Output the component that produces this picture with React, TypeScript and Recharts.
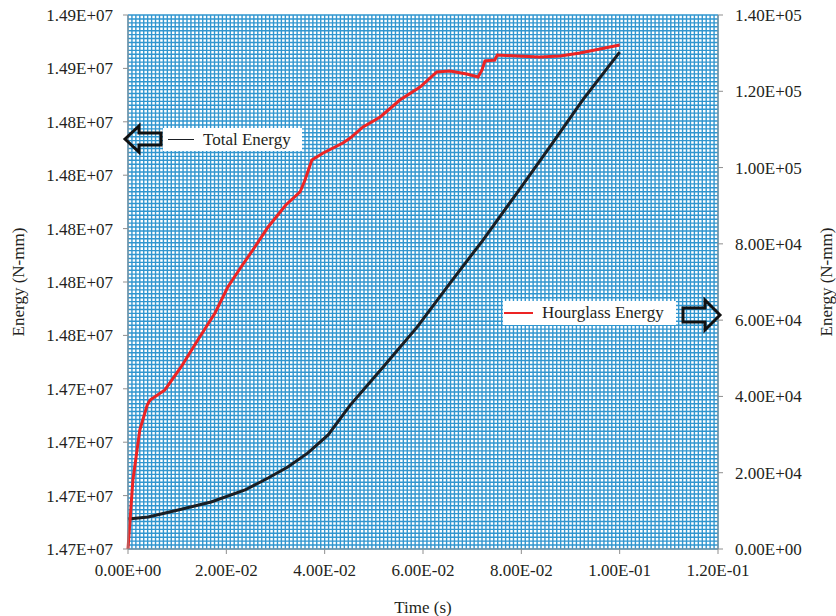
import { LineChart, Line, XAxis, YAxis, CartesianGrid } from 'recharts';

// Total Energy (left axis, N-mm) vs time (s)
const totalTime = [0, 0.0041, 0.0102, 0.0169, 0.0238, 0.0285, 0.0325, 0.0366, 0.0407, 0.0452, 0.0519, 0.0588, 0.0655, 0.0722, 0.0791, 0.0858, 0.0925, 0.1];
const totalEnergy = [14691200, 14692000, 14694600, 14697600, 14702100, 14706600, 14710700, 14716000, 14722700, 14733900, 14748200, 14763100, 14779600, 14795700, 14813300, 14830600, 14848200, 14866100];

// Hourglass Energy (right axis, N-mm) vs time (s)
const hgTime = [0, 0.001, 0.0024, 0.0039, 0.0045, 0.0075, 0.0108, 0.0142, 0.0177, 0.0203, 0.023, 0.0258, 0.0285, 0.0321, 0.035, 0.036, 0.0374, 0.0397, 0.0437, 0.0452, 0.0478, 0.0513, 0.0553, 0.0594, 0.0628, 0.0655, 0.0689, 0.0712, 0.072, 0.0726, 0.0746, 0.0751, 0.0791, 0.0838, 0.0879, 0.0919, 0.096, 0.1];
const hgEnergy = [0, 18090, 31200, 37750, 39060, 41690, 47720, 54790, 61870, 68690, 73930, 79180, 84420, 90190, 93600, 96740, 101990, 103820, 106440, 107750, 110640, 113260, 117710, 121120, 125060, 125320, 124530, 123740, 125580, 127940, 128200, 129510, 129250, 128990, 129250, 130040, 131090, 132130];

const xTicks = [0, 0.02, 0.04, 0.06, 0.08, 0.1, 0.12];
const leftTicks = [14680000, 14700000, 14720000, 14740000, 14760000, 14780000, 14800000, 14820000, 14840000, 14860000, 14880000];
const rightTicks = [0, 20000, 40000, 60000, 80000, 100000, 120000, 140000];

// fine background grid (graph-paper look): 150 columns, 136 rows
const GRID_COLS = 150;
const gridX = Array.from({ length: GRID_COLS + 1 }, (_, i) => i);
const gridY = Array.from({ length: 137 }, (_, i) => i);

const totalData = totalTime.map((t, i) => ({ t, total: totalEnergy[i] }));
const hgData = hgTime.map((t, i) => ({ t, hg: hgEnergy[i] }));

const FONT = '"Liberation Serif", "Times New Roman", serif';
const TEXT = '#231f20';
const AXIS = '#8f8f8f';

function sci(v: number) {
  const [m, e] = v.toExponential(2).split('e');
  return `${m}E${e[0]}${e.slice(1).padStart(2, '0')}`;
}

const tickStyle = { fontFamily: FONT, fontSize: 17, fill: TEXT };

export default function App() {
  return (
    <div style={{ position: 'absolute', left: 0, top: 0, width: 836, height: 616, background: '#fff' }}>
      <LineChart width={836} height={616} margin={{ top: 15, right: 8, bottom: 0, left: 15 }}>
        <YAxis yAxisId="grid" type="number" domain={[0, 136]} ticks={gridY} interval={0} allowDataOverflow hide width={0} />
        <CartesianGrid
          yAxisId="grid"
          stroke="#3196cf"
          strokeWidth={1.4}
          fill="#ffffff"
          verticalCoordinatesGenerator={({ offset }: any) =>
            gridX.map((i) => offset.left + (i * offset.width) / GRID_COLS)
          }
        />
        <XAxis
          dataKey="t"
          type="number"
          domain={[0, 0.12]}
          ticks={xTicks}
          tickFormatter={sci}
          height={67}
          stroke={AXIS}
          tickSize={5}
          tickMargin={10}
          tick={tickStyle}
          allowDuplicatedCategory={false}
          label={{ value: 'Time (s)', position: 'insideBottom', offset: 3, style: { fontFamily: FONT, fontSize: 17, fill: TEXT } }}
        />
        <YAxis
          yAxisId="left"
          type="number"
          domain={[14680000, 14880000]}
          ticks={leftTicks}
          tickFormatter={sci}
          width={113}
          stroke={AXIS}
          tickSize={5}
          tickMargin={10}
          tick={tickStyle}
          label={{ value: 'Energy (N-mm)', angle: -90, position: 'insideLeft', offset: 3, style: { fontFamily: FONT, fontSize: 17, fill: TEXT, textAnchor: 'middle' } }}
        />
        <YAxis
          yAxisId="right"
          orientation="right"
          type="number"
          domain={[0, 140000]}
          ticks={rightTicks}
          tickFormatter={sci}
          width={110}
          stroke={AXIS}
          tickSize={5}
          tickMargin={12}
          tick={tickStyle}
          label={{ value: 'Energy (N-mm)', angle: -90, position: 'insideRight', offset: 2, style: { fontFamily: FONT, fontSize: 17, fill: TEXT, textAnchor: 'middle' } }}
        />
        <Line yAxisId="left" data={totalData} dataKey="total" type="linear" stroke="#1b1f24" strokeWidth={3} dot={false} isAnimationActive={false} />
        <Line yAxisId="right" data={hgData} dataKey="hg" type="linear" stroke="#ec2424" strokeWidth={3} dot={false} isAnimationActive={false} />
      </LineChart>

      {/* annotation: Total Energy -> left axis */}
      <div style={{ position: 'absolute', left: 163, top: 128, width: 139, height: 23, background: '#fff', fontFamily: FONT, fontSize: 17, color: TEXT, display: 'flex', alignItems: 'center' }}>
        <span style={{ display: 'inline-block', width: 26, height: 1.5, background: '#1b1f24', marginLeft: 5, marginRight: 9 }} />
        Total Energy
      </div>
      {/* annotation: Hourglass Energy -> right axis */}
      <div style={{ position: 'absolute', left: 503, top: 301, width: 173, height: 24, background: '#fff', fontFamily: FONT, fontSize: 17, color: TEXT, display: 'flex', alignItems: 'center' }}>
        <span style={{ display: 'inline-block', width: 29, height: 1.5, background: '#ec2424', marginLeft: 1, marginRight: 9 }} />
        Hourglass Energy
      </div>
      <svg width={836} height={616} style={{ position: 'absolute', left: 0, top: 0, pointerEvents: 'none' }}>
        <polygon points="125,139 139,126 139,133 161,133 161,145 139,145 139,152" fill="none" stroke="#111" strokeWidth={3} strokeLinejoin="miter" />
        <polygon points="720,315 705,300 705,308 683,308 683,322 705,322 705,330" fill="none" stroke="#111" strokeWidth={3} strokeLinejoin="miter" />
      </svg>
    </div>
  );
}
